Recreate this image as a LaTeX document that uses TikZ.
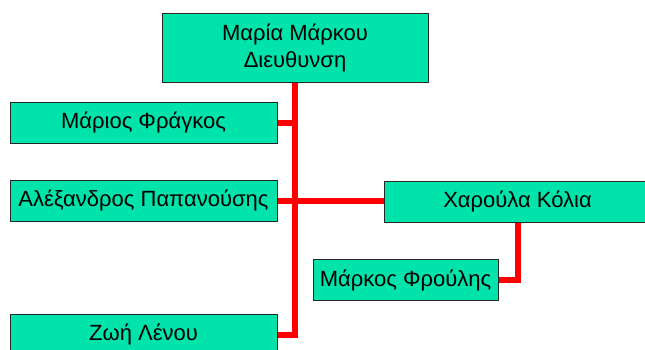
\documentclass[tikz,border=0pt]{standalone}
\usepackage{fontspec}
\setmainfont{Liberation Sans}
\definecolor{boxgreen}{RGB}{0,227,170}
\definecolor{linkred}{RGB}{255,0,0}

\begin{document}
\begin{tikzpicture}[x=1pt, y=-1pt,
    person/.style={draw=black!85, line width=1pt, fill=boxgreen, inner sep=0pt,
        minimum height=41pt, minimum width=267pt, align=center,
        font=\fontsize{22}{27}\selectfont},
    link/.style={draw=linkred, line width=6pt}]
        \path[use as bounding box, clip] (0,0) rectangle (645,349);

        \node[person, minimum height=69pt, minimum width=266pt] (boss) at (295,47.5) {Μαρία Μάρκου\\Διευθυνση};
        \node[person] (mario) at (143.5,122.5) {Μάριος Φράγκος};
        \node[person] (alex) at (143.5,200.5) {Αλέξανδρος Παπανούσης};
        \node[person] (zoi) at (143.5,334.5) {Ζωή Λένου};
        \node[person] (xar) at (517.5,201.5) {Χαρούλα Κόλια};
        \node[person, minimum width=185pt] (markos) at (405.5,280) {Μάρκος Φρούλης};

        \draw[link, line join=miter] (boss.south) -- (boss.south |- zoi.east) -- (zoi.east);
        \draw[link] (mario.east) -- (mario.east -| boss.south);
        \draw[link] (alex.east) -- (alex.east -| xar.west);
        \draw[link, line join=miter] (xar.south) |- (markos.east);
    \end{tikzpicture}
\end{document}
